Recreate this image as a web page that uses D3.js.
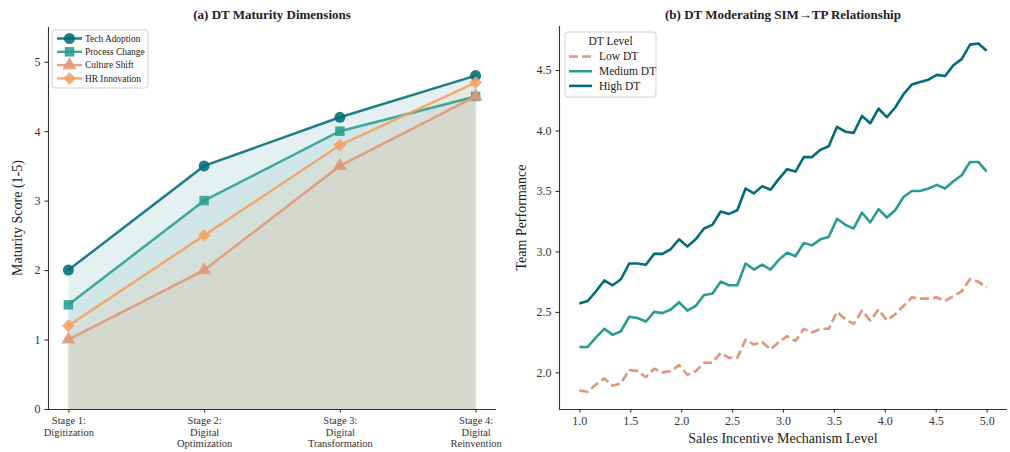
<!DOCTYPE html>
<html>
<head>
<meta charset="utf-8">
<script src="https://cdn.jsdelivr.net/npm/d3@7/dist/d3.min.js"></script>
<style>
  body { margin: 0; background: #fff; }
  svg { display: block; font-family: "Liberation Serif", "DejaVu Serif", serif; }
  .axis path, .axis line { stroke: #333; stroke-width: 1.1; }
  .axis text { fill: #333; }
</style>
</head>
<body>
<svg id="chart"></svg>
<script>
(function (d3) {
  'use strict'
  // data [[[1
  const W = 1010
  const H = 452
  const FONT = '"Liberation Serif", "DejaVu Serif", serif'

  // (a) maturity dimensions
  const stages = [
    ['Stage 1:', 'Digitization'],
    ['Stage 2:', 'Digital', 'Optimization'],
    ['Stage 3:', 'Digital', 'Transformation'],
    ['Stage 4:', 'Digital', 'Reinvention']
  ]
  const dimensions = ['Tech Adoption', 'Process Change', 'Culture Shift', 'HR Innovation']
  const techAdoption = [2.0, 3.5, 4.2, 4.8]
  const processChange = [1.5, 3.0, 4.0, 4.5]
  const cultureShift = [1.0, 2.0, 3.5, 4.5]
  const hrInnovation = [1.2, 2.5, 3.8, 4.7]
  const dimColors = ['#006d77', '#2a9d8f', '#e29578', '#f4a261']
  const dimSymbols = ['circle', 'square', 'triangle', 'diamond']

  // (b) moderating effect, SIM level 1..5 (50 points)
  const simLevel = d3.range(50).map(i => 1 + i * 4 / 49)
  const lowDT = [
    1.85, 1.84, 1.90, 1.95, 1.89, 1.91, 2.02, 2.01, 1.96, 2.03,
    2.00, 2.01, 2.06, 1.98, 2.01, 2.08, 2.08, 2.16, 2.12, 2.12,
    2.27, 2.23, 2.25, 2.19, 2.25, 2.30, 2.26, 2.36, 2.33, 2.36,
    2.36, 2.50, 2.44, 2.40, 2.51, 2.43, 2.52, 2.43, 2.48, 2.55,
    2.62, 2.61, 2.61, 2.62, 2.59, 2.63, 2.67, 2.77, 2.75, 2.70
  ]
  const mediumDT = [
    2.21, 2.21, 2.29, 2.36, 2.31, 2.34, 2.46, 2.45, 2.42, 2.50,
    2.49, 2.52, 2.58, 2.51, 2.55, 2.64, 2.65, 2.75, 2.72, 2.72,
    2.90, 2.85, 2.89, 2.85, 2.93, 2.99, 2.96, 3.07, 3.05, 3.10,
    3.12, 3.27, 3.22, 3.19, 3.32, 3.24, 3.35, 3.28, 3.34, 3.45,
    3.50, 3.50, 3.52, 3.55, 3.52, 3.58, 3.63, 3.74, 3.74, 3.66
  ]
  const highDT = [
    2.57, 2.59, 2.67, 2.76, 2.72, 2.77, 2.90, 2.90, 2.89, 2.98,
    2.98, 3.02, 3.10, 3.04, 3.10, 3.19, 3.22, 3.33, 3.31, 3.34,
    3.52, 3.48, 3.54, 3.51, 3.60, 3.68, 3.66, 3.78, 3.78, 3.84,
    3.87, 4.03, 3.99, 3.98, 4.12, 4.06, 4.18, 4.11, 4.19, 4.30,
    4.38, 4.40, 4.42, 4.46, 4.45, 4.54, 4.59, 4.71, 4.72, 4.66
  ]
  const dtLevels = ['Low DT', 'Medium DT', 'High DT']
  const dtColors = ['#e29578', '#2a9d8f', '#006d77']

  const svg = d3.select('#chart').attr('width', W).attr('height', H)

  // utils [[[1
  function symbolPath(kind) {
    if (kind === 'circle') return d3.symbol(d3.symbolCircle, 95)()
    if (kind === 'square') return d3.symbol(d3.symbolSquare, 90)()
    if (kind === 'triangle') return d3.symbol(d3.symbolTriangle, 85)()
    return d3.symbol(d3.symbolSquare, 80)()
  }
  function symbolRotate(kind) {
    return kind === 'diamond' ? ' rotate(45)' : ''
  }

  function legendBox(g, x, y, w, h) {
    g.append('rect')
      .attr('x', x).attr('y', y).attr('width', w).attr('height', h)
      .attr('rx', 3)
      .attr('fill', '#fff').attr('fill-opacity', 0.85)
      .attr('stroke', '#d0d0d0').attr('stroke-width', 1)
  }

  // panel (a) [[[1
  const a = { left: 48, right: 496, top: 27, bottom: 409 }
  const ga = svg.append('g')

  const xa = d3.scaleLinear().domain([-0.15, 3.15]).range([a.left, a.right])
  const ya = d3.scaleLinear().domain([0, 5.5]).range([a.bottom, a.top])

  const seriesA = [techAdoption, processChange, cultureShift, hrInnovation]

  const area = d3.area().x((d, i) => xa(i)).y0(ya(0)).y1(d => ya(d))
  const line = d3.line().x((d, i) => xa(i)).y(d => ya(d))

  seriesA.forEach((vals, k) => {
    ga.append('path').datum(vals).attr('d', area)
      .attr('fill', dimColors[k]).attr('fill-opacity', 0.1)
  })
  seriesA.forEach((vals, k) => {
    ga.append('path').datum(vals).attr('d', line)
      .attr('fill', 'none').attr('stroke', dimColors[k])
      .attr('stroke-width', 2.5).attr('stroke-opacity', 0.88)
    ga.selectAll(null).data(vals).enter().append('path')
      .attr('d', symbolPath(dimSymbols[k]))
      .attr('transform', (d, i) => 'translate(' + xa(i) + ',' + ya(d) + ')' + symbolRotate(dimSymbols[k]))
      .attr('fill', dimColors[k]).attr('fill-opacity', 0.88)
  })

  const yAxisA = ga.append('g').attr('class', 'axis')
    .attr('transform', 'translate(' + a.left + ',0)')
    .call(d3.axisLeft(ya).tickValues([0, 1, 2, 3, 4, 5]).tickFormat(d3.format('d')).tickSize(3.5).tickPadding(4))
    .attr('font-family', FONT)
  yAxisA.select('.domain').attr('d', 'M0.5,' + a.top + 'V' + a.bottom)
  yAxisA.selectAll('text').style('font-size', '12px')

  const xAxisA = ga.append('g').attr('class', 'axis')
    .attr('transform', 'translate(0,' + a.bottom + ')')
    .call(d3.axisBottom(xa).tickValues([0, 1, 2, 3]).tickFormat('').tickSize(3.5))
    .attr('font-family', FONT)
  xAxisA.select('.domain').attr('d', 'M' + a.left + ',0.5H' + a.right)
  xAxisA.selectAll('.tick').each(function (d) {
    const t = d3.select(this).append('text')
      .attr('text-anchor', 'middle').attr('fill', '#333')
      .style('font-size', '10.5px')
    stages[d].forEach((s, j) => {
      t.append('tspan').attr('x', 0).attr('y', 15 + j * 11.6).text(s)
    })
  })

  ga.append('text')
    .attr('transform', 'translate(22,' + (a.top + a.bottom) / 2 + ') rotate(-90)')
    .attr('text-anchor', 'middle').style('font-size', '14px').attr('fill', '#222')
    .text('Maturity Score (1-5)')

  ga.append('text')
    .attr('x', (a.left + a.right) / 2).attr('y', 19)
    .attr('text-anchor', 'middle').style('font-size', '13px').style('font-weight', 'bold')
    .attr('fill', '#222')
    .text('(a) DT Maturity Dimensions')

  // legend (a)
  const la = ga.append('g')
  legendBox(la, 52, 30, 96, 58)
  dimensions.forEach((name, k) => {
    const yy = 38.5 + k * 13.3
    la.append('line').attr('x1', 57).attr('x2', 82).attr('y1', yy).attr('y2', yy)
      .attr('stroke', dimColors[k]).attr('stroke-width', 2.5).attr('stroke-opacity', 0.88)
    la.append('path').attr('d', symbolPath(dimSymbols[k]))
      .attr('transform', 'translate(69.5,' + yy + ')' + symbolRotate(dimSymbols[k]))
      .attr('fill', dimColors[k]).attr('fill-opacity', 0.88)
    la.append('text').attr('x', 85).attr('y', yy + 3.3)
      .style('font-size', '9.4px').attr('fill', '#222').text(name)
  })

  // panel (b) [[[1
  const b = { left: 559, right: 1007, top: 26, bottom: 409 }
  const gb = svg.append('g')

  const xb = d3.scaleLinear().domain([0.8, 5.2]).range([b.left, b.right])
  const yb = d3.scaleLinear().domain([1.697, 4.864]).range([b.bottom, b.top])

  const lineB = d3.line().x((d, i) => xb(simLevel[i])).y(d => yb(d))
  const seriesB = [lowDT, mediumDT, highDT]
  seriesB.forEach((vals, k) => {
    gb.append('path').datum(vals).attr('d', lineB)
      .attr('fill', 'none').attr('stroke', dtColors[k])
      .attr('stroke-width', 2.6).attr('stroke-linejoin', 'round')
      .attr('stroke-dasharray', k === 0 ? '9,4' : null)
  })

  const yAxisB = gb.append('g').attr('class', 'axis')
    .attr('transform', 'translate(' + b.left + ',0)')
    .call(d3.axisLeft(yb).tickValues([2.0, 2.5, 3.0, 3.5, 4.0, 4.5]).tickFormat(d3.format('.1f')).tickSize(3.5).tickPadding(4))
    .attr('font-family', FONT)
  yAxisB.select('.domain').attr('d', 'M0.5,' + b.top + 'V' + b.bottom)
  yAxisB.selectAll('text').style('font-size', '12px')

  const xAxisB = gb.append('g').attr('class', 'axis')
    .attr('transform', 'translate(0,' + b.bottom + ')')
    .call(d3.axisBottom(xb).tickValues(d3.range(1, 5.01, 0.5)).tickFormat(d3.format('.1f')).tickSize(3.5).tickPadding(4))
    .attr('font-family', FONT)
  xAxisB.select('.domain').attr('d', 'M' + b.left + ',0.5H' + b.right)
  xAxisB.selectAll('text').style('font-size', '12px')

  gb.append('text')
    .attr('x', (b.left + b.right) / 2).attr('y', 443)
    .attr('text-anchor', 'middle').style('font-size', '14px').attr('fill', '#222')
    .text('Sales Incentive Mechanism Level')

  gb.append('text')
    .attr('transform', 'translate(526,' + (b.top + b.bottom) / 2 + ') rotate(-90)')
    .attr('text-anchor', 'middle').style('font-size', '14px').attr('fill', '#222')
    .text('Team Performance')

  gb.append('text')
    .attr('x', (b.left + b.right) / 2).attr('y', 19)
    .attr('text-anchor', 'middle').style('font-size', '13px').style('font-weight', 'bold')
    .attr('fill', '#222')
    .text('(b) DT Moderating SIM\u2192TP Relationship')

  // legend (b)
  const lb = gb.append('g')
  legendBox(lb, 565, 32, 91, 65)
  lb.append('text').attr('x', 610.5).attr('y', 45)
    .attr('text-anchor', 'middle').style('font-size', '11.5px').attr('fill', '#222').text('DT Level')
  dtLevels.forEach((name, k) => {
    const yy = 56.5 + k * 14.7
    lb.append('line').attr('x1', 569).attr('x2', 592).attr('y1', yy).attr('y2', yy)
      .attr('stroke', dtColors[k]).attr('stroke-width', 2.6)
      .attr('stroke-dasharray', k === 0 ? '9,4' : null)
    lb.append('text').attr('x', 599).attr('y', yy + 3.8)
      .style('font-size', '11.5px').attr('fill', '#222').text(name)
  })

}(d3))
</script>
</body>
</html>
